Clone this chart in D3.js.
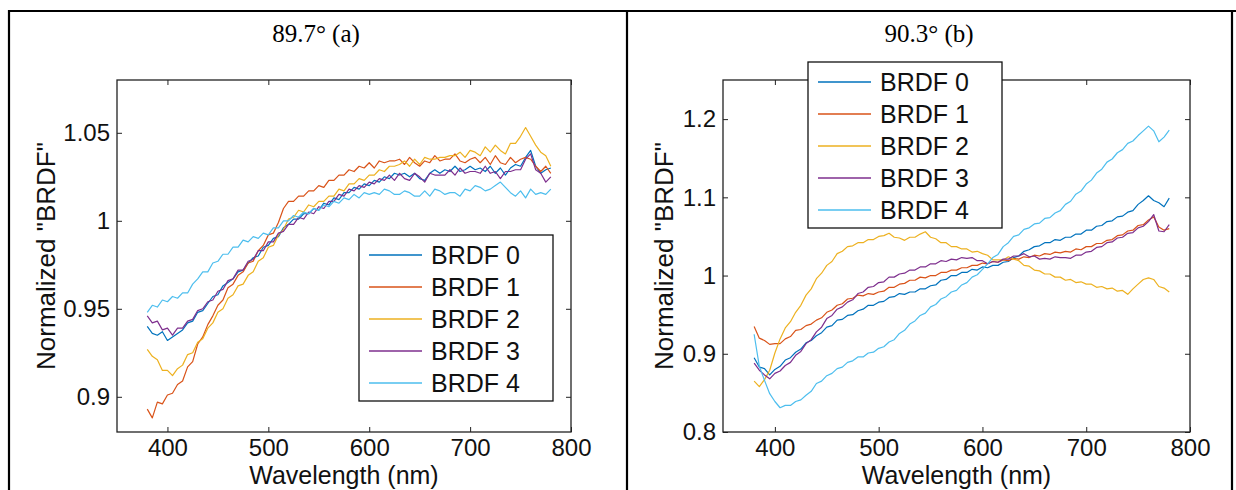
<!DOCTYPE html>
<html>
<head>
<meta charset="utf-8">
<script src="https://cdn.jsdelivr.net/npm/d3@7"></script>
<style>
  html, body { margin: 0; padding: 0; background: #fff; }
  svg { display: block; }
</style>
</head>
<body>
<svg id="chart" width="1236" height="490"></svg>
<script>
// ---------------- DATA ----------------
const wlStart = 380, wlStep = 5;           // sampling grid of the spectra (nm)
const seriesNames = ["BRDF 0", "BRDF 1", "BRDF 2", "BRDF 3", "BRDF 4"];
const panelTitles = ["89.7\u00B0 (a)", "90.3\u00B0 (b)"];
const xTicks = [400, 500, 600, 700, 800];
const yTicksA = [0.9, 0.95, 1, 1.05];
const yTickLabelsA = ["0.9", "0.95", "1", "1.05"];
const yTicksB = [0.8, 0.9, 1, 1.1, 1.2];
const yTickLabelsB = ["0.8", "0.9", "1", "1.1", "1.2"];
const xDomain = [350, 800];
const yDomainA = [0.88, 1.08];
const yDomainB = [0.8, 1.25];

// Panel (a) 89.7 deg
const a0 = [0.940,0.936,0.935,0.937,0.932,0.934,0.936,0.938,0.942,0.943,0.948,0.949,0.953,0.957,0.958,0.963,0.965,0.967,0.971,0.972,0.976,0.979,0.980,0.985,0.986,0.990,0.991,0.996,0.998,1.001,1.001,1.004,1.004,1.007,1.006,1.010,1.009,1.013,1.012,1.016,1.016,1.019,1.018,1.021,1.020,1.023,1.022,1.025,1.024,1.027,1.026,1.027,1.025,1.027,1.024,1.023,1.027,1.029,1.027,1.029,1.028,1.031,1.028,1.029,1.031,1.029,1.030,1.028,1.031,1.027,1.030,1.026,1.030,1.032,1.031,1.036,1.040,1.031,1.027,1.029,1.030];
const a1 = [0.893,0.888,0.897,0.896,0.901,0.902,0.907,0.909,0.917,0.920,0.930,0.934,0.941,0.946,0.952,0.955,0.962,0.964,0.969,0.971,0.976,0.977,0.983,0.986,0.992,0.993,0.999,1.007,1.011,1.011,1.014,1.014,1.017,1.017,1.020,1.019,1.023,1.023,1.026,1.026,1.029,1.028,1.031,1.030,1.033,1.030,1.034,1.033,1.034,1.034,1.035,1.032,1.036,1.033,1.031,1.034,1.033,1.037,1.034,1.035,1.035,1.038,1.034,1.033,1.035,1.036,1.033,1.036,1.032,1.037,1.033,1.032,1.036,1.033,1.035,1.036,1.035,1.031,1.028,1.031,1.027];
const a2 = [0.927,0.923,0.921,0.915,0.915,0.912,0.916,0.918,0.924,0.925,0.931,0.933,0.939,0.942,0.948,0.950,0.956,0.958,0.963,0.964,0.969,0.971,0.977,0.979,0.985,0.986,0.992,0.995,1.001,1.002,1.006,1.005,1.009,1.008,1.011,1.011,1.014,1.014,1.018,1.017,1.021,1.021,1.024,1.023,1.026,1.026,1.029,1.028,1.031,1.031,1.032,1.034,1.031,1.035,1.032,1.036,1.035,1.035,1.036,1.036,1.037,1.037,1.039,1.036,1.040,1.039,1.037,1.042,1.039,1.043,1.040,1.038,1.044,1.044,1.048,1.053,1.048,1.043,1.039,1.037,1.031];
const a3 = [0.946,0.942,0.943,0.938,0.939,0.935,0.939,0.939,0.943,0.944,0.949,0.950,0.954,0.955,0.960,0.961,0.966,0.967,0.972,0.972,0.977,0.978,0.983,0.983,0.988,0.988,0.993,0.994,0.998,0.998,1.002,1.001,1.005,1.004,1.008,1.007,1.011,1.011,1.015,1.014,1.018,1.017,1.020,1.019,1.022,1.021,1.024,1.023,1.026,1.023,1.027,1.024,1.023,1.027,1.025,1.022,1.027,1.026,1.026,1.026,1.029,1.026,1.030,1.027,1.028,1.028,1.027,1.031,1.027,1.028,1.024,1.028,1.028,1.029,1.029,1.035,1.038,1.029,1.027,1.022,1.025];
const a4 = [0.948,0.952,0.951,0.955,0.954,0.957,0.956,0.959,0.959,0.964,0.967,0.971,0.971,0.976,0.977,0.981,0.981,0.985,0.985,0.989,0.988,0.991,0.990,0.993,0.992,0.996,0.996,1.000,1.000,1.003,1.002,1.005,1.004,1.007,1.006,1.009,1.008,1.011,1.010,1.013,1.012,1.015,1.013,1.016,1.015,1.016,1.015,1.018,1.017,1.015,1.015,1.017,1.016,1.014,1.014,1.017,1.014,1.018,1.017,1.015,1.016,1.016,1.014,1.018,1.017,1.020,1.019,1.017,1.018,1.020,1.022,1.019,1.016,1.014,1.017,1.013,1.018,1.015,1.016,1.015,1.018];

// Panel (b) 90.3 deg
const b0 = [0.895,0.883,0.881,0.873,0.880,0.884,0.892,0.895,0.902,0.906,0.914,0.917,0.923,0.927,0.934,0.936,0.943,0.944,0.949,0.950,0.955,0.957,0.962,0.962,0.966,0.967,0.972,0.973,0.977,0.976,0.979,0.979,0.983,0.983,0.987,0.988,0.994,0.995,1.000,1.000,1.004,1.004,1.008,1.007,1.011,1.010,1.013,1.013,1.017,1.018,1.023,1.025,1.031,1.033,1.037,1.038,1.042,1.042,1.046,1.045,1.049,1.049,1.053,1.053,1.058,1.058,1.063,1.064,1.069,1.070,1.075,1.076,1.081,1.083,1.091,1.096,1.102,1.096,1.093,1.088,1.099];
const b1 = [0.935,0.920,0.917,0.912,0.913,0.913,0.919,0.922,0.930,0.931,0.936,0.938,0.943,0.946,0.953,0.956,0.962,0.964,0.970,0.971,0.975,0.974,0.977,0.976,0.979,0.980,0.985,0.985,0.989,0.990,0.994,0.994,0.998,0.997,1.000,1.000,1.004,1.004,1.007,1.007,1.010,1.010,1.013,1.013,1.016,1.015,1.018,1.017,1.020,1.019,1.022,1.021,1.024,1.023,1.026,1.025,1.028,1.027,1.030,1.029,1.031,1.030,1.034,1.033,1.037,1.037,1.041,1.041,1.045,1.046,1.051,1.052,1.057,1.058,1.064,1.065,1.071,1.075,1.062,1.058,1.060];
const b2 = [0.865,0.858,0.867,0.879,0.901,0.919,0.933,0.941,0.953,0.962,0.975,0.983,0.996,1.003,1.013,1.018,1.028,1.031,1.037,1.038,1.042,1.042,1.046,1.046,1.050,1.051,1.054,1.049,1.048,1.045,1.049,1.049,1.053,1.056,1.049,1.047,1.042,1.042,1.037,1.037,1.034,1.034,1.030,1.031,1.028,1.026,1.020,1.020,1.020,1.024,1.021,1.019,1.013,1.012,1.007,1.006,1.002,1.002,0.998,0.998,0.994,0.995,0.991,0.992,0.989,0.989,0.985,0.986,0.983,0.984,0.980,0.981,0.976,0.983,0.989,0.995,0.997,0.995,0.986,0.984,0.979];
const b3 = [0.888,0.879,0.873,0.868,0.875,0.878,0.885,0.889,0.898,0.903,0.913,0.918,0.928,0.934,0.945,0.949,0.957,0.960,0.966,0.969,0.977,0.979,0.985,0.986,0.991,0.992,0.998,0.998,1.002,1.003,1.007,1.007,1.011,1.011,1.015,1.015,1.019,1.018,1.021,1.020,1.023,1.022,1.023,1.019,1.019,1.015,1.018,1.017,1.021,1.021,1.025,1.025,1.028,1.024,1.025,1.021,1.022,1.021,1.024,1.023,1.023,1.022,1.026,1.026,1.030,1.031,1.036,1.037,1.042,1.043,1.048,1.049,1.054,1.055,1.061,1.063,1.069,1.078,1.057,1.056,1.065];
const b4 = [0.925,0.884,0.866,0.849,0.839,0.831,0.834,0.834,0.839,0.841,0.847,0.852,0.862,0.865,0.872,0.875,0.881,0.883,0.889,0.891,0.896,0.896,0.901,0.902,0.907,0.909,0.915,0.918,0.926,0.930,0.938,0.942,0.949,0.952,0.960,0.963,0.970,0.973,0.979,0.981,0.988,0.991,0.998,1.001,1.008,1.015,1.023,1.027,1.037,1.042,1.050,1.052,1.059,1.061,1.066,1.067,1.073,1.074,1.080,1.083,1.091,1.095,1.104,1.108,1.117,1.122,1.131,1.136,1.145,1.149,1.157,1.161,1.169,1.172,1.179,1.185,1.191,1.185,1.171,1.177,1.186];

const seriesA = [a0, a1, a2, a3, a4];
const seriesB = [b0, b1, b2, b3, b4];
const colors = ["#0072BD", "#D95319", "#EDB120", "#7E2F8E", "#4DBEEE"];

// ---------------- DRAWING ----------------
const svg = d3.select("#chart");
svg.append("rect").attr("width", 1236).attr("height", 490).attr("fill", "#fff");

const SANS = "'Liberation Sans', Arial, Helvetica, sans-serif";
const SERIF = "'Liberation Serif', 'Times New Roman', serif";

// table frame
const frame = svg.append("g").attr("stroke", "#000").attr("stroke-width", 2.2);
frame.append("line").attr("x1", 8).attr("x2", 1236).attr("y1", 11).attr("y2", 11);
frame.append("line").attr("x1", 9).attr("x2", 9).attr("y1", 10).attr("y2", 490);
frame.append("line").attr("x1", 627).attr("x2", 627).attr("y1", 10).attr("y2", 490);
frame.append("line").attr("x1", 1232).attr("x2", 1232).attr("y1", 10).attr("y2", 490);

const panels = [
  { title: panelTitles[0], cx: 316, left: 117, right: 571, top: 80, bottom: 432,
    yDomain: yDomainA, yTicks: yTicksA, yLabels: yTickLabelsA, series: seriesA,
    ylabX: 55, legend: { x: 359, y: 235 } },
  { title: panelTitles[1], cx: 929, left: 723, right: 1190, top: 80, bottom: 432,
    yDomain: yDomainB, yTicks: yTicksB, yLabels: yTickLabelsB, series: seriesB,
    ylabX: 673, legend: { x: 808, y: 62 } }
];

panels.forEach(p => {
  const x = d3.scaleLinear().domain(xDomain).range([p.left, p.right]);
  const y = d3.scaleLinear().domain(p.yDomain).range([p.bottom, p.top]);
  const g = svg.append("g");

  // title
  g.append("text").attr("x", p.cx).attr("y", 42).attr("text-anchor", "middle")
    .attr("font-family", SERIF).attr("font-size", 25).attr("fill", "#000").text(p.title);

  // data lines
  const line = d3.line().x((d, i) => x(wlStart + i * wlStep)).y(d => y(d));
  p.series.forEach((s, k) => {
    g.append("path").datum(s).attr("d", line).attr("fill", "none")
      .attr("stroke", colors[k]).attr("stroke-width", 1.2).attr("stroke-linejoin", "round");
  });

  // axes (ticks inward on all sides)
  const axB = g.append("g").attr("transform", `translate(0,${p.bottom})`)
    .call(d3.axisBottom(x).tickValues(xTicks).tickSizeInner(-5).tickSizeOuter(0).tickPadding(7).tickFormat(d3.format("d")));
  const axT = g.append("g").attr("transform", `translate(0,${p.top})`)
    .call(d3.axisTop(x).tickValues(xTicks).tickSizeInner(-5).tickSizeOuter(0).tickFormat(""));
  const axL = g.append("g").attr("transform", `translate(${p.left},0)`)
    .call(d3.axisLeft(y).tickValues(p.yTicks).tickSizeInner(-5).tickSizeOuter(0).tickPadding(7)
      .tickFormat((d, i) => p.yLabels[i]));
  const axR = g.append("g").attr("transform", `translate(${p.right},0)`)
    .call(d3.axisRight(y).tickValues(p.yTicks).tickSizeInner(-5).tickSizeOuter(0).tickFormat(""));
  [axB, axT, axL, axR].forEach(a => {
    a.select(".domain").remove();
    a.selectAll("line").attr("stroke", "#222");
    a.selectAll("text").attr("font-family", SANS).attr("font-size", 24).attr("fill", "#111");
  });

  // box
  g.append("rect").attr("x", p.left).attr("y", p.top)
    .attr("width", p.right - p.left).attr("height", p.bottom - p.top)
    .attr("fill", "none").attr("stroke", "#222").attr("stroke-width", 1.3);

  // axis labels
  g.append("text").attr("x", (p.left + p.right) / 2).attr("y", 484).attr("text-anchor", "middle")
    .attr("font-family", SANS).attr("font-size", 25).attr("fill", "#111").text("Wavelength (nm)");
  g.append("text").attr("transform", `translate(${p.ylabX},${(p.top + p.bottom) / 2}) rotate(-90)`)
    .attr("text-anchor", "middle")
    .attr("font-family", SANS).attr("font-size", 26).attr("fill", "#111").text('Normalized "BRDF"');

  // legend
  const lg = g.append("g").attr("transform", `translate(${p.legend.x},${p.legend.y})`);
  lg.append("rect").attr("width", 194).attr("height", 166).attr("fill", "#fff")
    .attr("stroke", "#111").attr("stroke-width", 1.3);
  seriesNames.forEach((n, k) => {
    const cy = 20 + k * 32;
    lg.append("line").attr("x1", 10).attr("x2", 63).attr("y1", cy).attr("y2", cy)
      .attr("stroke", colors[k]).attr("stroke-width", 1.3);
    lg.append("text").attr("x", 72).attr("y", cy).attr("dy", "0.36em")
      .attr("font-family", SANS).attr("font-size", 25).attr("fill", "#111").text(n);
  });
});
</script>
</body>
</html>
